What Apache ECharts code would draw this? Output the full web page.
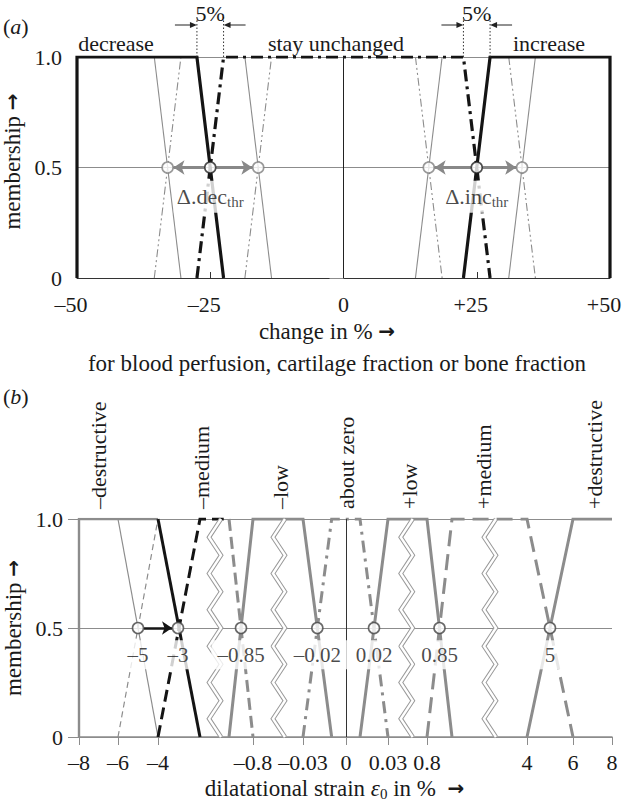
<!DOCTYPE html>
<html><head><meta charset="utf-8">
<script src="https://cdn.jsdelivr.net/npm/echarts@6.0.0/dist/echarts.min.js"></script>
<style>html,body{margin:0;padding:0;background:#fff;}#chart{width:623px;height:808px;}</style>
</head><body><div id="chart"></div>
<script>
// ===== Panel (a): change in % =====
const aXTicks = [-50, -25, 0, 25, 50];
const aYTicks = [0, 0.5, 1];
const aRegionNames = ['decrease', 'stay unchanged', 'increase'];
const aDecrease = [[-50,0],[-50,1],[-27.5,1],[-22.5,0]];
const aStay     = [[-27.5,0],[-22.5,1],[22.5,1],[27.5,0]];
const aIncrease = [[22.5,0],[27.5,1],[50,1],[50,0]];
const aDecShiftSolid    = [[[-35.5,1],[-30.5,0]], [[-18.5,1],[-13.5,0]]];
const aStayShiftDecSide = [[[-35.5,0],[-30.5,1]], [[-18.5,0],[-13.5,1]]];
const aIncShiftSolid    = [[[13.5,0],[18.5,1]], [[31,0],[36,1]]];
const aStayShiftIncSide = [[[13.5,1],[18.5,0]], [[31,1],[36,0]]];
const aDecThr = [-33, -25, -16];
const aIncThr = [16, 25, 33.5];
const aThrNames = ['dec', 'inc'];
const aEdgeLabel = '5%';

// ===== Panel (b): dilatational strain =====
const bTickValues = [-8,-6,-4,-0.8,-0.03,0,0.03,0.8,4,6,8];
const bTickLabels = ['–8','–6','–4','–0.8','–0.03','0','0.03','0.8','4','6','8'];
const bSetNames   = ['–destructive','–medium','–low','about zero','+low','+medium','+destructive'];
const bSetCenters = [-7, -1.96, -0.38, 0, 0.46, 2.2, 7.1];
const bNegDestructivePlateau   = [[-8,0],[-8,1],[-4,1]];
const bNegDestructiveOrigFall  = [[-6,1],[-4,0]];
const bNegMediumOrigRise       = [[-6,0],[-4,1]];
const bNegDestructiveShiftFall = [[-4,1],[-2,0]];
const bNegMediumShiftRise      = [[-4,0],[-2,1],[-1.1,1]];
const bNegMediumFall  = [[-0.9,1],[-0.8,0]];
const bNegLow         = [[-0.9,0],[-0.8,1],[-0.03,1],[-0.01,0]];
const bAboutZero      = [[-0.03,0],[-0.01,1],[0.01,1],[0.03,0]];
const bPosLow         = [[0.01,0],[0.03,1],[0.8,1],[0.9,0]];
const bPosMedium      = [[0.8,0],[0.9,1],[4,1],[6,0]];
const bPosDestructive = [[4,0],[6,1],[8,1]];
const bThresholds      = [-5,-3,-0.85,-0.02,0.02,0.85,5];
const bThresholdLabels = ['–5','–3','–0.85','–0.02','0.02','0.85','5'];
const bShift = [-5, -3];
const bAxisBreaks = [-1.43, -0.4, 0.4, 2.47];

// broken (piecewise-linear) strain axis: value knots -> axis units
const B_KNOT_VALUES = [-8,-6,-4,-3,-2,-0.9,-0.8,-0.03,0,0.03,0.8,0.9,4,6,8];
const B_KNOT_UNITS  = [0,39,79,99,121,150,174,224,267,309,348,373,448,494,533];
function posB(v){
  const K = B_KNOT_VALUES, U = B_KNOT_UNITS;
  for (let i = 0; i < K.length - 1; i++) {
    if (v <= K[i+1] || i === K.length - 2) {
      return U[i] + (v - K[i]) / (K[i+1] - K[i]) * (U[i+1] - U[i]);
    }
  }
}
const mapB = pts => pts.map(p => [posB(p[0]), p[1]]);

const FONT = "'Liberation Serif', 'Times New Roman', serif";
const ARROWFONT = "'DejaVu Sans', sans-serif";
const TXT = '#1a1a1a';
const GRAY = '#8c8c8c';
const BLACK = '#141414';
const FS = 22;
const FN = 23;

const chart = echarts.init(document.getElementById('chart'), null, {renderer: 'svg', width: 623, height: 808});

const series = [];
function addLine(grid, pts, color, width, type, z){
  series.push({
    type: 'line', xAxisIndex: grid === 0 ? 0 : 1, yAxisIndex: grid === 0 ? 0 : 1,
    data: grid === 0 ? pts : mapB(pts), symbol: 'none', silent: true, animation: false,
    lineStyle: {color: color, width: width, type: type, cap: 'butt', join: 'miter'}, z: z || 2
  });
}
// zero reference lines
series.push({type:'line', xAxisIndex:0, yAxisIndex:0, data:[], markLine:{silent:true, symbol:'none', animation:false, label:{show:false}, lineStyle:{color:'#222', width:1, type:'solid'}, data:[{xAxis:0}]}});
series.push({type:'line', xAxisIndex:1, yAxisIndex:1, data:[], markLine:{silent:true, symbol:'none', animation:false, label:{show:false}, lineStyle:{color:'#333', width:1, type:'solid'}, data:[{xAxis:posB(0)}]}});

// ---- panel (a) lines ----
const dashDotDot = [8,3,2,3,2,3];
aDecShiftSolid.forEach(s => addLine(0, s, GRAY, 1.1, 'solid'));
aStayShiftDecSide.forEach(s => addLine(0, s, GRAY, 1.1, dashDotDot));
aIncShiftSolid.forEach(s => addLine(0, s, GRAY, 1.1, 'solid'));
aStayShiftIncSide.forEach(s => addLine(0, s, GRAY, 1.1, dashDotDot));
addLine(0, aDecrease, BLACK, 3.2, 'solid', 3);
addLine(0, aStay, BLACK, 3.2, [12,5,3,5], 3);
addLine(0, aIncrease, BLACK, 3.2, 'solid', 3);

// arrows (a)
function arrowSeg(c, o, g1, g2){ const s = Math.sign(o - c); return {coords: [[c + s*g1, 0.5], [o - s*g2, 0.5]]}; }
series.push({
  type:'lines', coordinateSystem:'cartesian2d', xAxisIndex:0, yAxisIndex:0, silent:true, animation:false, z:4,
  symbol:['none','arrow'], symbolSize:11, polyline:false,
  lineStyle:{color:'#888', width:3, opacity:1, curveness:0},
  data:[arrowSeg(aDecThr[1], aDecThr[0], 1.1, 1.1), arrowSeg(aDecThr[1], aDecThr[2], 1.1, 1.1),
        arrowSeg(aIncThr[1], aIncThr[0], 1.1, 1.1), arrowSeg(aIncThr[1], aIncThr[2], 1.1, 1.1)]
});
// circles (a)
series.push({
  type:'scatter', xAxisIndex:0, yAxisIndex:0, silent:true, animation:false, z:6,
  symbol:'circle', symbolSize:11,
  itemStyle:{color:'#fff', borderColor:'#808080', borderWidth:1.6},
  data:[[aDecThr[0],0.5],[aDecThr[2],0.5],[aIncThr[0],0.5],[aIncThr[2],0.5]]
});
series.push({
  type:'scatter', xAxisIndex:0, yAxisIndex:0, silent:true, animation:false, z:7,
  symbol:'circle', symbolSize:11,
  itemStyle:{color:'#fff', borderColor:'#222', borderWidth:1.6},
  data:[[aDecThr[1],0.5],[aIncThr[1],0.5]],
  label:{show:true, position:'bottom', distance:7, backgroundColor:'#fff', padding:[3,3,3,3],
    formatter: p => '{m|Δ.' + aThrNames[p.dataIndex] + '}{s|thr}',
    rich:{m:{fontFamily:FONT, fontSize:FS, color:TXT, lineHeight:26, verticalAlign:'middle'},
          s:{fontFamily:FONT, fontSize:15, color:TXT, lineHeight:15, verticalAlign:'bottom'}}}
});

// ---- panel (b) lines ----
addLine(1, bNegDestructivePlateau, GRAY, 2.4, 'solid');
addLine(1, bNegDestructiveOrigFall, GRAY, 1.2, 'solid');
addLine(1, bNegMediumOrigRise, GRAY, 1.2, [6,4]);
addLine(1, bNegLow, GRAY, 3, 'solid');
addLine(1, bNegMediumFall, GRAY, 3, [12,6]);
addLine(1, bAboutZero, GRAY, 3, [12,6,3,6]);
addLine(1, bPosLow, GRAY, 3, 'solid');
addLine(1, bPosMedium, GRAY, 3, [16,8]);
addLine(1, bPosDestructive, GRAY, 3, 'solid');
addLine(1, bNegDestructiveShiftFall, BLACK, 3, 'solid', 3);
addLine(1, bNegMediumShiftRise, BLACK, 3, [12,6], 3);

// axis-break zigzags (decoration of the broken axis)
function zigzag(v){
  const c = posB(v), pts = [], n = 12;
  for (let i = 0; i <= n; i++) pts.push([c + (i % 2 === 0 ? 6 : -6), 1 - i / n]);
  return pts;
}
bAxisBreaks.forEach(v => {
  const pts = zigzag(v);
  series.push({type:'line', xAxisIndex:1, yAxisIndex:1, data:pts, symbol:'none', silent:true, animation:false, z:4,
    lineStyle:{color:'#9a9a9a', width:4.4, join:'miter'}});
  series.push({type:'line', xAxisIndex:1, yAxisIndex:1, data:pts, symbol:'none', silent:true, animation:false, z:5,
    lineStyle:{color:'#fff', width:2.4, join:'miter'}});
});
// shift arrow (b)
series.push({
  type:'lines', coordinateSystem:'cartesian2d', xAxisIndex:1, yAxisIndex:1, silent:true, animation:false, z:6,
  symbol:['none','arrow'], symbolSize:10, lineStyle:{color:BLACK, width:2.6, opacity:1, curveness:0},
  data:[{coords:[[posB(bShift[0]) + 6, 0.5], [posB(bShift[1]) - 6, 0.5]]}]
});
// circles (b)
series.push({
  type:'scatter', xAxisIndex:1, yAxisIndex:1, silent:true, animation:false, z:8,
  symbol:'circle', symbolSize:11,
  itemStyle:{color:'#fff', borderColor:'#444', borderWidth:1.6},
  data: bThresholds.map(v => [posB(v), 0.5]),
  label:{show:true, position:'bottom', distance:6, backgroundColor:'#fff', padding:[4,6,4,6],
    fontFamily:FONT, fontSize:21, color:TXT, formatter: p => bThresholdLabels[p.dataIndex]}
});

const bTickMap = new Map(bTickValues.map((v,i) => [posB(v).toFixed(2), bTickLabels[i]]));
const bSetMap = new Map(bSetCenters.map((v,i) => [posB(v).toFixed(2), bSetNames[i]]));
const labelStyle = {fontFamily:FONT, fontSize:FS, color:TXT};
const fmtA = v => v > 0 ? '{p|+' + v + '}' : (v < 0 ? '{p|–' + (-v) + '}' : '0');
const fmtY = v => v === 0 ? '0' : v.toFixed(1);
const arrowRich = {fontFamily:ARROWFONT, fontSize:20, fontWeight:'bold', color:TXT};

chart.setOption({
  animation:false,
  backgroundColor:'#fff',
  textStyle:{fontFamily:FONT},
  grid:[
    {left:77, right:13, top:57, height:221, outerBoundsMode:'none'},
    {left:79, right:11, top:519, height:218, outerBoundsMode:'none'}
  ],
  xAxis:[
    {gridIndex:0, type:'value', min:aXTicks[0], max:aXTicks[aXTicks.length-1], interval:25,
     axisLine:{lineStyle:{color:'#333', width:1}},
     axisTick:{inside:true, length:6, lineStyle:{color:'#333'}},
     axisLabel:Object.assign({margin:15, formatter:fmtA,
       rich:{p:{fontFamily:FONT, fontSize:FS, color:TXT, padding:[0,12,0,0]}}}, labelStyle),
     splitLine:{show:false},
     name:'{n|change in % }{b|→}{g|}\n{n|for blood perfusion, cartilage fraction or bone fraction}',
     nameLocation:'middle', nameGap:37,
     nameTextStyle:{padding:[0,13,0,0], rich:{n:{fontFamily:FONT, fontSize:FN, color:TXT, lineHeight:32}, g:{width:20, lineHeight:32}, b:Object.assign({lineHeight:32}, arrowRich)}}},
    {gridIndex:1, type:'value', min:0, max:B_KNOT_UNITS[B_KNOT_UNITS.length-1],
     axisLine:{lineStyle:{color:GRAY, width:1.5}},
     axisTick:{show:true, length:8, lineStyle:{color:GRAY}, customValues: bTickValues.map(posB)},
     axisLabel:Object.assign({margin:14, customValues: bTickValues.map(posB), formatter: v => bTickMap.get(Number(v).toFixed(2)) || ''}, labelStyle),
     splitLine:{show:false},
     name:'{n|dilatational strain }{e|ε}{s|0}{n| in %  }{b|→}', nameLocation:'middle', nameGap:38,
     nameTextStyle:{padding:[0,22,0,0], rich:{n:{fontFamily:FONT, fontSize:FN, color:TXT, lineHeight:26, verticalAlign:'middle'},
       e:{fontFamily:FONT, fontSize:FN, fontStyle:'italic', color:TXT, lineHeight:26, verticalAlign:'middle'},
       s:{fontFamily:FONT, fontSize:15, color:TXT, lineHeight:15, verticalAlign:'bottom'},
       b:Object.assign({lineHeight:26, verticalAlign:'middle'}, arrowRich)}}},
    {gridIndex:1, type:'value', position:'top', min:0, max:B_KNOT_UNITS[B_KNOT_UNITS.length-1],
     axisLine:{show:false}, axisTick:{show:false}, splitLine:{show:false},
     axisLabel:Object.assign({margin:10, rotate:90, customValues: bSetCenters.map(posB), formatter: v => bSetMap.get(Number(v).toFixed(2)) || ''}, labelStyle)}
  ],
  yAxis:[
    {gridIndex:0, type:'value', min:0, max:1, interval:0.5,
     axisLine:{show:true, lineStyle:{color:GRAY}},
     axisTick:{show:true, length:14, lineStyle:{color:GRAY}},
     axisLabel:Object.assign({margin:15, formatter:fmtY}, labelStyle),
     splitLine:{show:true, lineStyle:{color:GRAY, width:1}},
     name:'{n|membership }{b|→}', nameLocation:'middle', nameGap:51,
     nameTextStyle:{padding:[0,0,0,12], rich:{n:{fontFamily:FONT, fontSize:FN, color:TXT}, b:arrowRich}}},
    {gridIndex:1, type:'value', min:0, max:1, interval:0.5,
     axisLine:{show:true, lineStyle:{color:GRAY, width:1.5}},
     axisTick:{show:true, length:11, lineStyle:{color:GRAY}},
     axisLabel:Object.assign({margin:16, formatter:fmtY}, labelStyle),
     splitLine:{show:true, lineStyle:{color:GRAY, width:1}},
     name:'{n|membership }{b|→}', nameLocation:'middle', nameGap:53,
     nameTextStyle:{rich:{n:{fontFamily:FONT, fontSize:FN, color:TXT}, b:arrowRich}}},
    {gridIndex:1, type:'value', position:'right', min:0, max:1,
     axisLine:{show:true, lineStyle:{color:GRAY, width:1.5}}, axisTick:{show:false}, axisLabel:{show:false}, splitLine:{show:false}}
  ],
  series: series
});

// ---- annotations positioned through the axes ----
const pxA = v => chart.convertToPixel({xAxisIndex:0}, v);
const yTop = chart.convertToPixel({yAxisIndex:0}, 1);
const g = [];
function txt(x, y, text, extra){
  g.push({type:'text', x:x, y:y, silent:true, z:20, style:Object.assign({text:text, fontFamily:FONT, fontSize:FS, fill:TXT, align:'center', verticalAlign:'middle'}, extra || {})});
}
const edgePairs = [[aDecrease[2][0], aDecrease[3][0]], [aIncrease[0][0], aIncrease[1][0]]];
edgePairs.forEach(([lo, hi]) => {
  const xl = pxA(lo), xh = pxA(hi), ya = 25;
  [xl, xh].forEach(x => g.push({type:'line', silent:true, z:20, shape:{x1:x, y1:yTop, x2:x, y2:17}, style:{stroke:'#333', lineWidth:1, lineDash:[1.5,2]}}));
  g.push({type:'line', silent:true, z:20, shape:{x1:xl-22, y1:ya, x2:xl-5, y2:ya}, style:{stroke:'#222', lineWidth:1}});
  g.push({type:'polygon', silent:true, z:20, shape:{points:[[xl,ya],[xl-7,ya-3],[xl-7,ya+3]]}, style:{fill:'#222'}});
  g.push({type:'line', silent:true, z:20, shape:{x1:xh+22, y1:ya, x2:xh+5, y2:ya}, style:{stroke:'#222', lineWidth:1}});
  g.push({type:'polygon', silent:true, z:20, shape:{points:[[xh,ya],[xh+7,ya-3],[xh+7,ya+3]]}, style:{fill:'#222'}});
  txt((xl + xh) / 2, 13, aEdgeLabel);
});
txt(116, 43, aRegionNames[0]);
txt(336, 43, aRegionNames[1]);
txt(549, 43, aRegionNames[2]);
const panelRich = {n:{fontFamily:FONT, fontSize:FS, fill:TXT}, i:{fontFamily:FONT, fontSize:FS, fontStyle:'italic', fill:TXT}};
g.push({type:'text', x:3, y:26, silent:true, z:20, style:{text:'{n|(}{i|a}{n|)}', rich:panelRich, align:'left', verticalAlign:'middle'}});
g.push({type:'text', x:3, y:396, silent:true, z:20, style:{text:'{n|(}{i|b}{n|)}', rich:panelRich, align:'left', verticalAlign:'middle'}});
chart.setOption({graphic: g});
</script>
</body></html>
